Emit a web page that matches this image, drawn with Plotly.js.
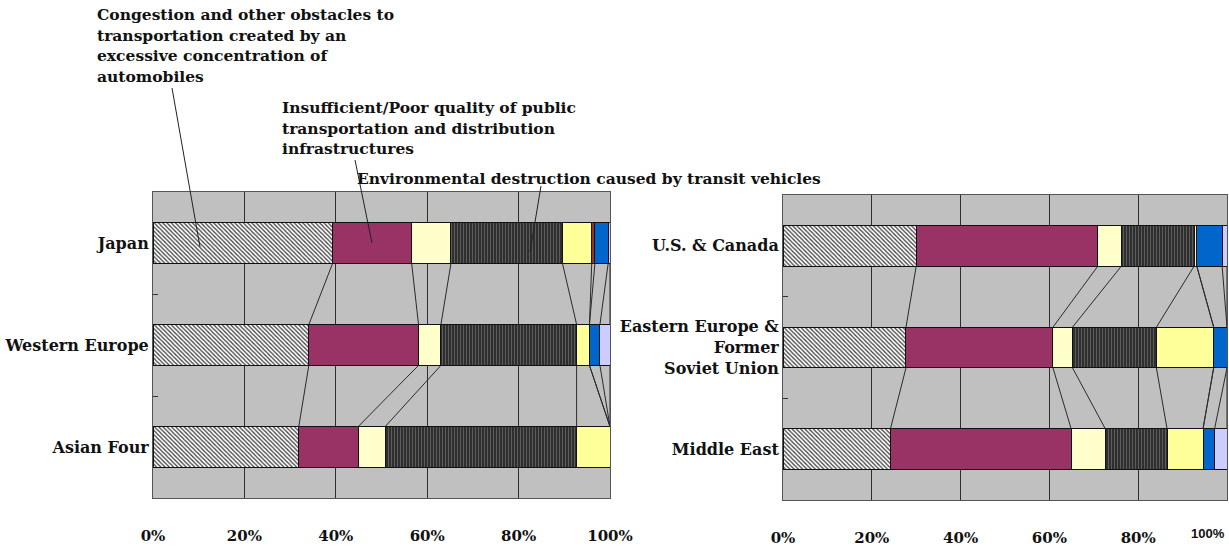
<!DOCTYPE html>
<html>
<head>
<meta charset="utf-8">
<script src="https://cdn.plot.ly/plotly-3.0.1.min.js"></script>
<style>
  html, body { margin: 0; padding: 0; background: #ffffff; }
  #chart { width: 1229px; height: 548px; }
</style>
</head>
<body>
<div id="chart"></div>
<script>
// Regions in each panel (top to bottom)
const regionsLeft = ['Japan', 'Western Europe', 'Asian Four'];
const regionsRight = ['U.S. & Canada', 'Eastern Europe &<br>Former<br>Soviet Union', 'Middle East'];

// Share of answers (%) per problem, same region order as above
const congestionLeft = [39.3, 34.1, 31.9];
const congestionRight = [30.0, 27.7, 24.2];
const publicTransportLeft = [17.3, 24.0, 13.0];
const publicTransportRight = [40.9, 33.1, 40.7];
const issueCLeft = [8.6, 4.9, 5.9];
const issueCRight = [5.3, 4.4, 7.7];
const environmentLeft = [24.4, 29.7, 41.9];
const environmentRight = [16.4, 18.9, 13.9];
const issueELeft = [6.4, 2.8, 7.3];
const issueERight = [0.6, 12.9, 8.1];
const issueFLeft = [0.7, 0, 0];
const issueFRight = [0, 0, 0];
const issueGLeft = [2.9, 2.3, 0];
const issueGRight = [5.7, 3.0, 2.6];
const issueHLeft = [0.4, 2.2, 0];
const issueHRight = [1.1, 0, 2.8];

// Axis tick labels
const tickValsLeft = [0, 20, 40, 60, 80, 100];
const tickTextLeft = ['0%', '20%', '40%', '60%', '80%', '100%'];
const tickValsRight = [0, 20, 40, 60, 80];
const tickTextRight = ['0%', '20%', '40%', '60%', '80%'];
const lastTickRight = '100%';

// Callout texts
const calloutCongestion = ['Congestion and other obstacles to', 'transportation created by an', 'excessive concentration of', 'automobiles'];
const calloutPublic = ['Insufficient/Poor quality of public', 'transportation and distribution', 'infrastructures'];
const calloutEnvironment = ['Environmental destruction caused by transit vehicles'];

const W = 1229, H = 548;
const px = v => v / W;
const py = v => 1 - v / H;
const SERIF = 'DejaVu Serif, Liberation Serif, serif';
const BAR_W = 0.4;

const seriesStyles = [
  { name: 'Congestion', color: '#ffffff', pattern: { shape: '\\', bgcolor: '#ffffff', fgcolor: '#3a3a3a', size: 3, solidity: 0.4 } },
  { name: 'Public transportation', color: '#993366' },
  { name: 'Issue C', color: '#ffffcc' },
  { name: 'Environmental destruction', color: '#333333', pattern: { shape: '|', bgcolor: '#2a2a2a', fgcolor: '#5c5c5c', size: 3, solidity: 0.4 } },
  { name: 'Issue E', color: '#ffff99' },
  { name: 'Issue F', color: '#993333' },
  { name: 'Issue G', color: '#0066cc' },
  { name: 'Issue H', color: '#ccccff' }
];

const leftSeries = [congestionLeft, publicTransportLeft, issueCLeft, environmentLeft, issueELeft, issueFLeft, issueGLeft, issueHLeft];
const rightSeries = [congestionRight, publicTransportRight, issueCRight, environmentRight, issueERight, issueFRight, issueGRight, issueHRight];

function makeTraces(seriesList, regions, xa, ya) {
  return seriesList.map((vals, k) => {
    const st = seriesStyles[k];
    const marker = { color: st.color, line: { color: '#111111', width: 1 } };
    if (st.pattern) marker.pattern = Object.assign({ fillmode: 'replace' }, st.pattern);
    return {
      type: 'bar', orientation: 'h', name: st.name,
      x: vals, y: regions, xaxis: xa, yaxis: ya,
      width: BAR_W, marker: marker, hoverinfo: 'x+name', showlegend: false
    };
  });
}

// Series lines joining segment boundaries of neighbouring bars
function seriesLines(seriesList, xref, yref) {
  const nBars = seriesList[0].length;
  const cum = [];
  for (let i = 0; i < nBars; i++) {
    let s = 0; const row = [];
    seriesList.forEach(vals => { s += vals[i]; row.push(s); });
    cum.push(row);
  }
  const shapes = [];
  for (let i = 0; i < nBars - 1; i++) {
    for (let k = 0; k < seriesList.length; k++) {
      shapes.push({
        type: 'line', xref: xref, yref: yref,
        x0: cum[i][k], y0: i + BAR_W / 2,
        x1: cum[i + 1][k], y1: i + 1 - BAR_W / 2,
        line: { color: '#2a2a2a', width: 1 }
      });
    }
  }
  return shapes;
}

function calloutAnnotations(lines, x, yFirst, step) {
  return lines.map((t, i) => ({
    xref: 'paper', yref: 'paper', x: px(x), y: py(yFirst + i * step),
    xanchor: 'left', yanchor: 'middle', text: t, showarrow: false,
    font: { family: SERIF, size: 15.5, color: '#111111', weight: 'bold' }
  }));
}

function leader(x0, y0, x1, y1) {
  return { type: 'line', xref: 'paper', yref: 'paper', x0: px(x0), y0: py(y0), x1: px(x1), y1: py(y1), line: { color: '#222222', width: 1 } };
}

const xCommon = {
  range: [0, 100], showgrid: true, gridcolor: '#2e2e2e', gridwidth: 1,
  zeroline: false, showline: true, mirror: true, linecolor: '#555555', linewidth: 1,
  ticks: '', tickmode: 'array', ticklabelstandoff: 24,
  tickfont: { family: SERIF, size: 15, color: '#111111', weight: 'bold' },
  fixedrange: true
};
const yCommon = {
  type: 'category', range: [2.5, -0.5], showgrid: false, zeroline: false,
  showline: true, mirror: true, linecolor: '#555555', linewidth: 1,
  ticks: 'inside', ticklen: 5, tickcolor: '#333333', tickson: 'boundaries',
  tickfont: { family: SERIF, size: 16, color: '#111111', weight: 'bold' },
  fixedrange: true
};

const traces = makeTraces(leftSeries, regionsLeft, 'x', 'y')
  .concat(makeTraces(rightSeries, regionsRight, 'x2', 'y2'));

const layout = {
  width: W, height: H,
  margin: { l: 0, r: 0, t: 0, b: 0, autoexpand: false },
  paper_bgcolor: '#ffffff', plot_bgcolor: '#c0c0c0',
  barmode: 'stack', bargap: 0, showlegend: false,
  xaxis: Object.assign({}, xCommon, { domain: [px(153), px(610)], anchor: 'y', tickvals: tickValsLeft, ticktext: tickTextLeft }),
  yaxis: Object.assign({}, yCommon, { domain: [py(498), py(192)], anchor: 'x', categoryorder: 'array', categoryarray: regionsLeft }),
  xaxis2: Object.assign({}, xCommon, { domain: [px(783), px(1227)], anchor: 'y2', tickvals: tickValsRight, ticktext: tickTextRight }),
  yaxis2: Object.assign({}, yCommon, { domain: [py(500), py(195)], anchor: 'x2', categoryorder: 'array', categoryarray: regionsRight }),
  shapes: seriesLines(leftSeries, 'x', 'y')
    .concat(seriesLines(rightSeries, 'x2', 'y2'))
    .concat([
      leader(172, 88, 200, 247),
      leader(355, 160, 372, 243),
      leader(541, 186, 530, 252)
    ]),
  annotations: calloutAnnotations(calloutCongestion, 95, 15, 20.5)
    .concat(calloutAnnotations(calloutPublic, 280, 108, 20.5))
    .concat(calloutAnnotations(calloutEnvironment, 355, 178, 20.5))
    .concat([{
      xref: 'paper', yref: 'paper', x: px(1208), y: py(533), xanchor: 'center', yanchor: 'middle',
      text: lastTickRight, showarrow: false,
      font: { family: 'Liberation Sans Narrow, Liberation Sans, sans-serif', size: 13, color: '#111111', weight: 'bold' }
    }])
};

Plotly.newPlot('chart', traces, layout, { displayModeBar: false, staticPlot: true });
</script>
</body>
</html>
